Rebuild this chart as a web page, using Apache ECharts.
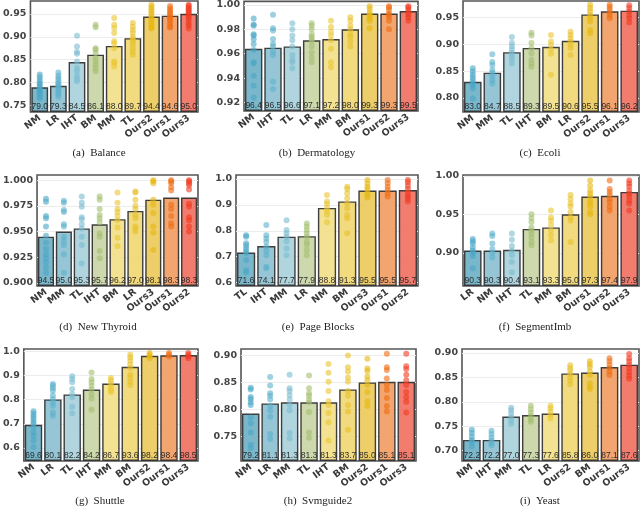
<!DOCTYPE html>
<html><head><meta charset="utf-8">
<script src="https://cdn.jsdelivr.net/npm/echarts@6/dist/echarts.min.js"></script>
<style>html,body{margin:0;padding:0;background:#fff}#c{width:640px;height:507px}</style>
</head><body><div id="c"></div><script>
// ---------- DATA ----------
const catsA = ['NM','LR','IHT','BM','MM','TL','Ours2','Ours1','Ours3'];
const meanA = [79.0,79.3,84.5,86.1,88.0,89.7,94.4,94.6,95.0];
const ptsA = [
 [0.818,0.812,0.806,0.800,0.797,0.792,0.788,0.784,0.780,0.775,0.770,0.766],
 [0.822,0.815,0.810,0.805,0.800,0.797,0.793,0.790,0.785,0.780,0.775,0.769],
 [0.902,0.879,0.867,0.863,0.846,0.832,0.825,0.815,0.808,0.803],
 [0.926,0.921,0.875,0.872,0.865,0.854,0.846,0.839,0.832,0.825],
 [0.941,0.926,0.919,0.908,0.890,0.886,0.875,0.846,0.843,0.835],
 [0.930,0.922,0.915,0.908,0.900,0.895,0.890,0.883,0.875,0.868,0.861],
 [0.970,0.965,0.960,0.955,0.950,0.945,0.940,0.935,0.930,0.925,0.920,0.918],
 [0.967,0.962,0.958,0.954,0.950,0.946,0.942,0.938,0.934,0.928,0.922,0.920],
 [0.970,0.967,0.963,0.960,0.957,0.953,0.950,0.946,0.942,0.937,0.930,0.925,0.918]];
const ticksA = [0.75,0.80,0.85,0.90,0.95];

const catsB = ['NM','IHT','TL','LR','MM','BM','Ours1','Ours2','Ours3'];
const meanB = [96.4,96.5,96.6,97.1,97.2,98.0,99.3,99.3,99.5];
const ptsB = [
 [0.989,0.984,0.983,0.976,0.975,0.972,0.968,0.963,0.953,0.952,0.942,0.934,0.924],
 [0.992,0.981,0.979,0.972,0.968,0.966,0.962,0.959,0.937,0.931],
 [0.985,0.980,0.975,0.971,0.966,0.959,0.955,0.953,0.948],
 [0.985,0.983,0.980,0.976,0.974,0.972,0.970,0.966,0.961,0.957,0.953],
 [0.987,0.982,0.978,0.975,0.971,0.964,0.953,0.949],
 [0.990,0.987,0.983,0.980,0.976,0.974,0.970,0.966],
 [0.999,0.997,0.994,0.992,0.991,0.989,0.987,0.981],
 [0.999,0.998,0.996,0.993,0.992,0.990,0.987,0.980],
 [0.999,0.998,0.996,0.994,0.992,0.990,0.987]];
const ticksB = [0.92,0.94,0.96,0.98,1.00];

const catsC = ['NM','MM','TL','IHT','BM','LR','Ours2','Ours1','Ours3'];
const meanC = [83.0,84.7,88.5,89.3,89.5,90.6,95.5,96.1,96.2];
const ptsC = [
 [0.855,0.849,0.843,0.838,0.833,0.828,0.824,0.818,0.799],
 [0.881,0.867,0.861,0.852,0.847,0.841,0.833,0.827],
 [0.913,0.902,0.896,0.890,0.884,0.878,0.872,0.864],
 [0.921,0.916,0.902,0.893,0.883,0.871,0.864,0.858],
 [0.917,0.905,0.899,0.890,0.882,0.843],
 [0.923,0.917,0.911,0.905,0.899,0.893,0.880],
 [0.973,0.967,0.961,0.954,0.948,0.942,0.926,0.920],
 [0.973,0.969,0.964,0.959,0.954,0.948],
 [0.972,0.967,0.961,0.954,0.948,0.940]];
const ticksC = [0.80,0.85,0.90,0.95];

const catsD = ['NM','MM','TL','IHT','BM','LR','Ours3','Ours1','Ours2'];
const meanD = [94.5,95.0,95.3,95.7,96.2,97.0,98.1,98.3,98.3];
const ptsD = [
 [0.982,0.979,0.965,0.963,0.955,0.946,0.939,0.933,0.928,0.924,0.920,0.915,0.910],
 [0.980,0.978,0.971,0.969,0.957,0.955,0.945,0.941,0.937,0.928,0.910],
 [0.984,0.978,0.974,0.964,0.962,0.957,0.953,0.945,0.937,0.919],
 [0.984,0.981,0.972,0.966,0.963,0.959,0.948,0.945,0.931,0.924],
 [0.988,0.978,0.972,0.969,0.965,0.961,0.954,0.944,0.936],
 [0.989,0.988,0.981,0.975,0.972,0.966,0.963,0.955,0.953,0.950],
 [1.000,0.999,0.997,0.981,0.976,0.968,0.955,0.949,0.932],
 [1.000,0.999,0.997,0.993,0.990,0.976,0.972,0.965,0.958,0.955],
 [1.000,0.999,0.997,0.995,0.991,0.977,0.974,0.964,0.961,0.955,0.950]];
const ticksD = [0.900,0.925,0.950,0.975,1.000];

const catsE = ['TL','IHT','MM','LR','NM','BM','Ours3','Ours1','Ours2'];
const meanE = [71.6,74.1,77.7,77.9,88.8,91.3,95.5,95.5,95.7];
const ptsE = [
 [0.783,0.777,0.752,0.743,0.732,0.722,0.713,0.687,0.648,0.639],
 [0.822,0.783,0.770,0.757,0.738,0.722,0.706,0.661,0.655],
 [0.841,0.803,0.790,0.777,0.760,0.732,0.706],
 [0.828,0.816,0.803,0.790,0.777,0.757,0.745,0.725,0.706],
 [0.938,0.913,0.903,0.887,0.874,0.861,0.833],
 [0.970,0.961,0.945,0.925,0.906,0.887,0.861,0.848,0.790],
 [0.996,0.983,0.970,0.961,0.948,0.938,0.928],
 [0.996,0.983,0.970,0.957,0.945,0.932],
 [0.996,0.987,0.974,0.961,0.948,0.935,0.925,0.913]];
const ticksE = [0.6,0.7,0.8,0.9,1.0];

const catsF = ['LR','NM','IHT','TL','MM','BM','Ours1','Ours2','Ours3'];
const meanF = [90.3,90.3,90.4,93.1,93.3,95.0,97.3,97.4,97.9];
const ptsF = [
 [0.918,0.915,0.912,0.907,0.903,0.900,0.896,0.880],
 [0.925,0.922,0.912,0.905,0.900,0.894],
 [0.925,0.917,0.909,0.903,0.897,0.888,0.875],
 [0.950,0.945,0.940,0.933,0.929,0.925,0.920,0.914,0.910],
 [0.955,0.946,0.942,0.936,0.929,0.923,0.916],
 [0.975,0.970,0.964,0.960,0.953,0.946,0.942,0.914],
 [0.994,0.987,0.981,0.977,0.973,0.968,0.964,0.960,0.953,0.950],
 [0.994,0.983,0.979,0.975,0.970,0.966,0.960,0.955],
 [0.994,0.990,0.986,0.981,0.977,0.973,0.968,0.964,0.955]];
const ticksF = [0.90,0.95,1.00];

const catsG = ['NM','LR','TL','IHT','MM','BM','Ours2','Ours1','Ours3'];
const meanG = [69.6,80.1,82.2,84.2,86.7,93.6,98.2,98.4,98.5];
const ptsG = [
 [0.752,0.742,0.731,0.721,0.710,0.700,0.686,0.665,0.651,0.631,0.604],
 [0.865,0.858,0.847,0.837,0.817,0.803,0.789,0.775,0.747,0.733],
 [0.897,0.886,0.872,0.844,0.823,0.810,0.771,0.744],
 [0.913,0.886,0.872,0.858,0.842,0.823,0.805,0.758],
 [0.890,0.881,0.867,0.853,0.839,0.832],
 [0.986,0.975,0.961,0.947,0.931,0.903,0.892,0.874,0.861],
 [0.993,0.986,0.979,0.972],
 [0.993,0.986,0.979],
 [0.993,0.986,0.979,0.972]];
const ticksG = [0.6,0.7,0.8,0.9,1.0];

const catsH = ['NM','LR','MM','TL','IHT','BM','Ours2','Ours1','Ours3'];
const meanH = [79.2,81.1,81.3,81.3,81.3,83.7,85.0,85.1,85.1];
const ptsH = [
 [0.840,0.837,0.823,0.819,0.813,0.808,0.785,0.774,0.757,0.734,0.728],
 [0.860,0.844,0.830,0.825,0.818,0.806,0.798,0.786,0.754,0.745],
 [0.864,0.839,0.834,0.826,0.818,0.808,0.798,0.756,0.746],
 [0.863,0.839,0.830,0.825,0.818,0.813,0.795,0.757,0.747],
 [0.884,0.868,0.851,0.834,0.815,0.808,0.793,0.776,0.742],
 [0.900,0.878,0.870,0.859,0.851,0.834,0.825,0.808,0.796,0.762],
 [0.894,0.876,0.871,0.861,0.854,0.845,0.832,0.815,0.806],
 [0.903,0.878,0.873,0.857,0.845,0.836,0.821,0.806,0.796],
 [0.903,0.880,0.875,0.864,0.854,0.845,0.832,0.823,0.814,0.794]];
const ticksH = [0.75,0.80,0.85,0.90];

const catsI = ['NM','IHT','MM','TL','LR','Ours2','BM','Ours1','Ours3'];
const meanI = [72.2,72.2,77.0,77.3,77.6,85.8,86.0,87.1,87.6];
const ptsI = [
 [0.743,0.736,0.729,0.722,0.718,0.709],
 [0.741,0.734,0.727,0.721,0.716,0.711],
 [0.788,0.783,0.776,0.769,0.762,0.755],
 [0.792,0.785,0.778,0.771,0.764,0.759],
 [0.792,0.787,0.780,0.773,0.766],
 [0.875,0.869,0.864,0.857,0.850,0.843,0.836],
 [0.883,0.877,0.871,0.862,0.855,0.838,0.831,0.826],
 [0.889,0.883,0.876,0.869,0.862,0.855],
 [0.898,0.889,0.883,0.876,0.869,0.861,0.854,0.847]];
const ticksI = [0.70,0.75,0.80,0.85,0.90];

const captions = ['(a)  Balance','(b)  Dermatology','(c)  Ecoli','(d)  New Thyroid','(e)  Page Blocks',
                  '(f)  SegmentImb','(g)  Shuttle','(h)  Svmguide2','(i)  Yeast'];

// ---------- LAYOUT / STYLE ----------
const panels = [
 {cats:catsA, mean:meanA, pts:ptsA, ticks:ticksA, dec:2, min:0.736, max:0.978, g:[22,1,176,111], cap:[99,153]},
 {cats:catsB, mean:meanB, pts:ptsB, ticks:ticksB, dec:2, min:0.913, max:1.003, g:[244,1,174,110], cap:[317,153]},
 {cats:catsC, mean:meanC, pts:ptsC, ticks:ticksC, dec:2, min:0.774, max:0.980, g:[463,1,176,111], cap:[540,153]},
 {cats:catsD, mean:meanD, pts:ptsD, ticks:ticksD, dec:3, min:0.897, max:1.005, g:[27,175,171,111], cap:[98,327]},
 {cats:catsE, mean:meanE, pts:ptsE, ticks:ticksE, dec:1, min:0.587, max:1.015, g:[236,175,182,111], cap:[318,327]},
 {cats:catsF, mean:meanF, pts:ptsF, ticks:ticksF, dec:2, min:0.857, max:1.001, g:[463,175,176,111], cap:[535,327]},
 {cats:catsG, mean:meanG, pts:ptsG, ticks:ticksG, dec:1, min:0.546, max:1.010, g:[15,349,183,112], cap:[100,501]},
 {cats:catsH, mean:meanH, pts:ptsH, ticks:ticksH, dec:2, min:0.704, max:0.912, g:[241,349,175,112], cap:[318,501]},
 {cats:catsI, mean:meanI, pts:ptsI, ticks:ticksI, dec:2, min:0.679, max:0.908, g:[462,349,177,112], cap:[540,501]}
];
const barColors = ['#70b1c7','#8dc1d1','#a9d1dc','#c9d5a5','#f3e08a','#f1d773','#ecca5c','#f19d62','#f17262'];
const dotColors = ['#49a6c6','#5bb0cb','#79bdd0','#a3bf6e','#e9c72f','#e8c22c','#e8b70f','#f06c12','#f03a20'];
const tickFont = 'DejaVu Sans';

const grid = [], xAxis = [], yAxis = [], series = [], graphic = [];
panels.forEach((p, k) => {
  grid.push({left:p.g[0], top:p.g[1], width:p.g[2], height:p.g[3], show:true,
    borderColor:'#555', borderWidth:1.6, backgroundColor:'#fff', containLabel:false});
  xAxis.push({type:'category', gridIndex:k, data:p.cats,
    axisLine:{show:false}, axisTick:{show:false},
    axisLabel:{interval:0, rotate:37, margin:5, fontFamily:tickFont, fontWeight:'bold', fontSize:9.5, color:'#3a3a3a'},
    splitLine:{show:false}});
  yAxis.push({type:'value', gridIndex:k, min:p.min, max:p.max, startValue:p.min,
    axisLine:{show:false},
    axisTick:{show:false, customValues:p.ticks},
    axisLabel:{customValues:p.ticks, margin:4, fontFamily:tickFont, fontWeight:'bold', fontSize:9.5, color:'#444',
      formatter: v => Number(v).toFixed(p.dec)},
    splitLine:{show:true, lineStyle:{color:'#ececec', width:1}}});
  series.push({type:'bar', xAxisIndex:k, yAxisIndex:k, barCategoryGap:'10%',
    data:p.mean.map((m,i)=>({value:m/100, itemStyle:{color:barColors[i]}})),
    itemStyle:{borderColor:'#2f2f2f', borderWidth:1.4, opacity:0.92},
    label:{show:true, position:'insideBottom', distance:1, fontFamily:'Liberation Sans', fontSize:8.5, color:'#222',
      formatter: d => (d.value*100).toFixed(1)},
    z:2, silent:true, animation:false});
  const sd = [];
  p.pts.forEach((arr,i)=>arr.forEach(v=>sd.push({value:[i,v], itemStyle:{color:dotColors[i]}})));
  series.push({type:'scatter', xAxisIndex:k, yAxisIndex:k, data:sd, symbolSize:6,
    itemStyle:{opacity:0.6}, z:3, silent:true, animation:false});
  graphic.push({type:'text', x:p.cap[0], y:p.cap[1],
    style:{text:captions[k], fill:'#222', font:'11px "Liberation Serif"', textAlign:'center', textVerticalAlign:'middle'}});
});
const chart = echarts.init(document.getElementById('c'), null, {renderer:'canvas'});
chart.setOption({animation:false, backgroundColor:'#fff', grid, xAxis, yAxis, series, graphic});
</script></body></html>
